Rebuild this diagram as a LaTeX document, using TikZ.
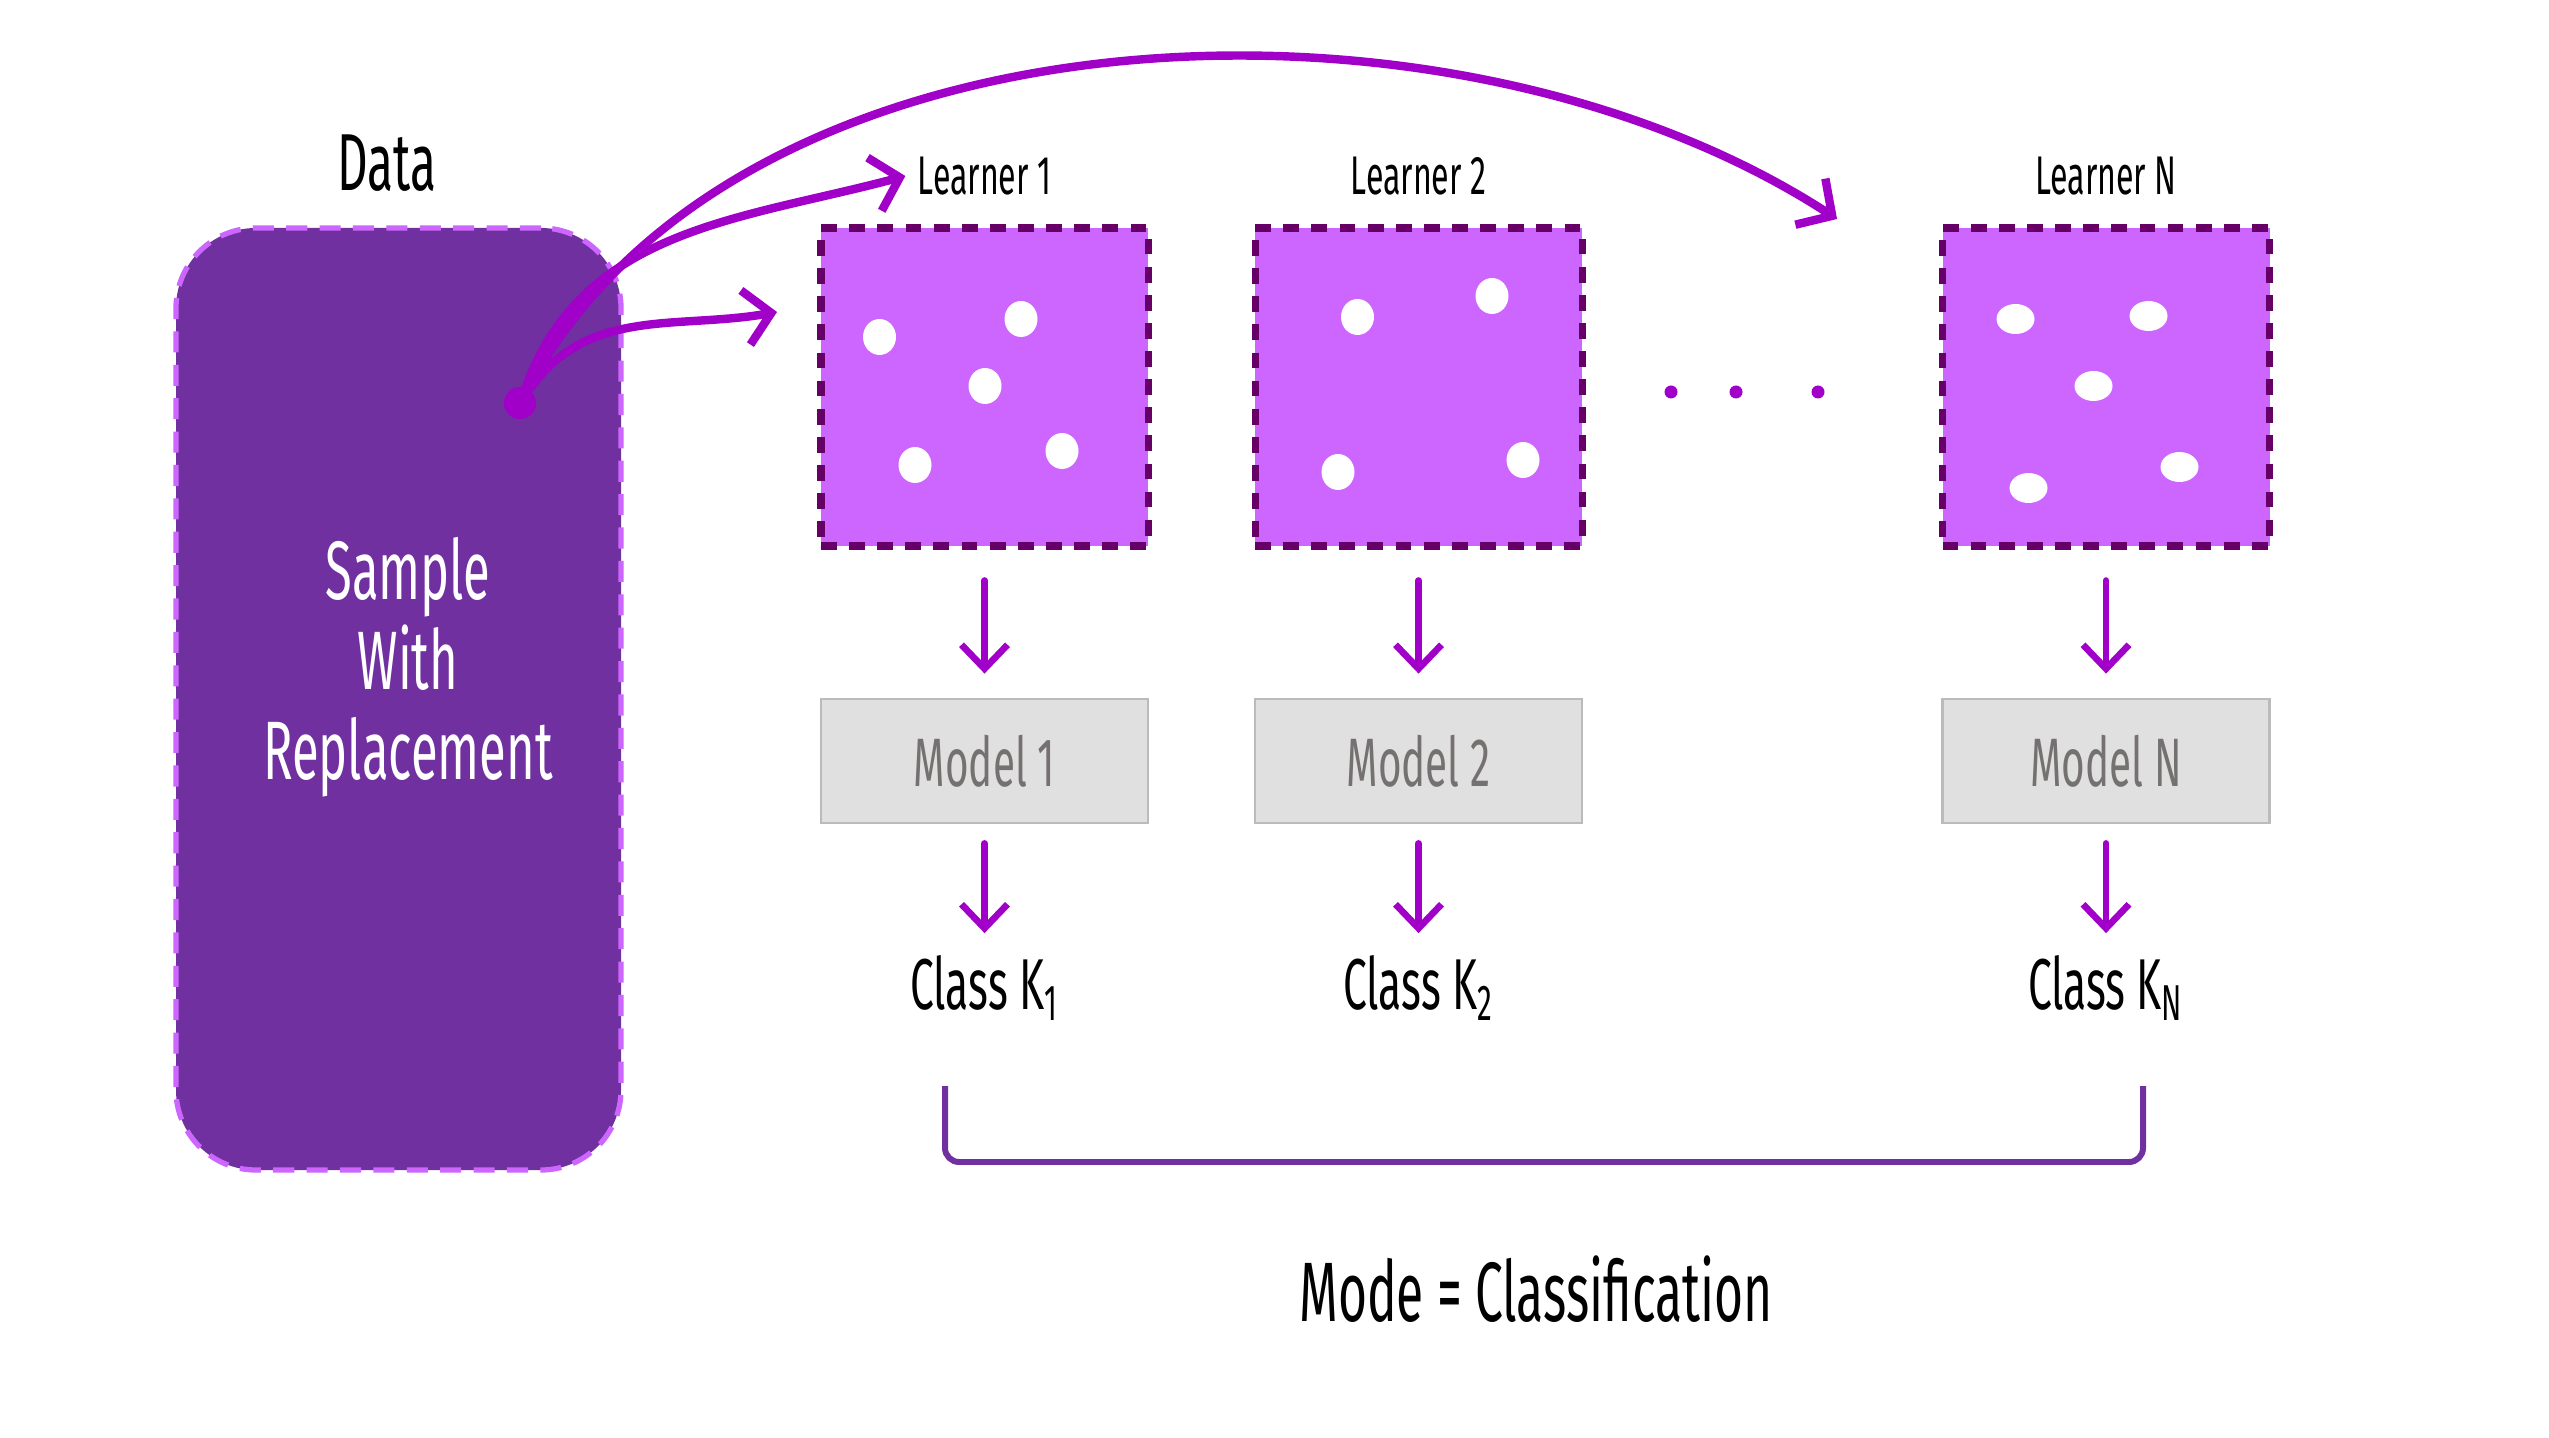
\documentclass[tikz,border=0pt]{standalone}
\usepackage{fontspec}
\setmainfont[FakeStretch=0.59]{Fira Sans}
\usepackage{tikz}
\usetikzlibrary{arrows.meta}
\definecolor{datafill}{HTML}{7030A0}
\definecolor{dataedge}{HTML}{CC66FF}
\definecolor{learnfill}{HTML}{CC66FF}
\definecolor{learnedge}{HTML}{660066}
\definecolor{arrowcol}{HTML}{A000C8}
\definecolor{modelfill}{HTML}{E0E0E0}
\definecolor{modeledge}{HTML}{BBBBBB}
\definecolor{modeltext}{HTML}{767171}
\tikzstyle{databox}=[draw=dataedge,%
                     fill=datafill,%
                     rectangle,%
                     rounded corners=0.8cm,%
                     line width=1.5pt,%
                     dash pattern=on 6pt off 3.5pt,%
                     minimum width=4.45cm,%
                     minimum height=9.42cm]
\tikzstyle{learner}=[draw=learnedge,fill=learnfill,rectangle,line width=2pt,dash pattern=on 4.5pt off 3.5pt,minimum width=3.27cm,minimum height=3.18cm]
\tikzstyle{model}=[draw=modeledge,fill=modelfill,rectangle,line width=0.8pt,minimum width=3.27cm,minimum height=1.24cm,text=modeltext,font=\fontsize{19.5}{21}\selectfont]
\tikzstyle{learnlabel}=[font=\fontsize{15.5}{17}\selectfont]
\tikzstyle{classlabel}=[font=\fontsize{20.5}{22}\selectfont]
\tikzstyle{downarrow}=[draw=arrowcol,line width=1.9pt,line cap=round,-{Straight Barb[length=2.4mm,width=4.6mm]}]
\tikzstyle{curvearrow}=[draw=arrowcol,line width=2.4pt,line cap=round,-{Straight Barb[length=2.6mm,width=5.5mm]}]

\begin{document}
\begin{tikzpicture}
            \useasboundingbox (0,0) rectangle (25.49,14.37);
            % data side
            \node[databox] (data) at (3.985,7.38) {};
            \node[font=\fontsize{23}{25}\selectfont] (datalabel) at (3.87,12.74) {Data};
            \node[text=white,align=center,font=\fontsize{23.6}{25.6}\selectfont] (sample) at (4.08,7.70) {Sample\\With\\Replacement};
            \node[circle,fill=arrowcol,inner sep=0pt,minimum size=0.32cm] (src) at (5.20,10.34) {};
            % learners
            \node[learner] (l1) at (9.845,10.50) {};
            \node[learner][right of=l1,node distance=4.34cm] (l2) {};
            \node[learner][right of=l2,node distance=6.875cm] (ln) {};
            \node[learnlabel][above of=l1,node distance=2.11cm] (t1) {Learner 1};
            \node[learnlabel][above of=l2,node distance=2.11cm] (t2) {Learner 2};
            \node[learnlabel][above of=ln,node distance=2.11cm] (tn) {Learner N};
            \foreach \dx/\dy in {-1.05/0.50,0.365/0.68,0.005/0.01,-0.695/-0.78,0.775/-0.64}
              \fill[white] ([shift={(\dx,\dy)}]l1.center) ellipse (0.165 and 0.18);
            \foreach \dx/\dy in {-0.61/0.70,0.735/0.91,-0.805/-0.85,1.045/-0.73}
              \fill[white] ([shift={(\dx,\dy)}]l2.center) ellipse (0.165 and 0.18);
            \foreach \dx/\dy in {-0.905/0.68,0.425/0.71,-0.125/0.01,-0.775/-1.01,0.735/-0.80}
              \fill[white] ([shift={(\dx,\dy)}]ln.center) ellipse (0.19 and 0.15);
            \foreach \x in {16.71,17.36,18.18}
              \fill[arrowcol] (\x,10.45) circle (0.065);
            % models and classes
            \node[model][below of=l1,node distance=3.74cm] (m1) {Model 1};
            \node[model][below of=l2,node distance=3.74cm] (m2) {Model 2};
            \node[model][below of=ln,node distance=3.74cm] (mn) {Model N};
            \node[classlabel][below of=m1,node distance=2.27cm] (c1) {Class K\textsubscript{1}};
            \node[classlabel][below of=m2,node distance=2.27cm] (c2) {Class K\textsubscript{2}};
            \node[classlabel][below of=mn,node distance=2.27cm] (cn) {Class K\textsubscript{N}};
            \draw[downarrow,shorten <=0.31cm,shorten >=0.24cm] (l1.south) -- (m1.north);
            \draw[downarrow,shorten <=0.31cm,shorten >=0.24cm] (l2.south) -- (m2.north);
            \draw[downarrow,shorten <=0.31cm,shorten >=0.24cm] (ln.south) -- (mn.north);
            \draw[downarrow,shorten <=0.19cm,shorten >=0.1cm] (m1.south) -- (c1.north);
            \draw[downarrow,shorten <=0.19cm,shorten >=0.1cm] (m2.south) -- (c2.north);
            \draw[downarrow,shorten <=0.19cm,shorten >=0.1cm] (mn.south) -- (cn.north);
            % sampling arrows
            \coordinate (e1) at (7.77,11.25);
            \coordinate (e3) at (18.37,12.18);
            \draw[curvearrow] (src) to[out=55,in=190] (e1);
            \draw[curvearrow] (src) to[out=70,in=195] (t1.west);
            \draw[curvearrow] (src) .. controls (7.4,14.4) and (14.5,14.7) .. (e3);
            % bracket
            \draw[datafill,line width=1.7pt,rounded corners=4pt] (9.45,3.51) -- (9.45,2.75) -- (21.43,2.75) -- (21.43,3.51);
            \node[font=\fontsize{24}{26}\selectfont] (mode) at (15.36,1.48) {Mode = Classification};
  \end{tikzpicture}
\end{document}
